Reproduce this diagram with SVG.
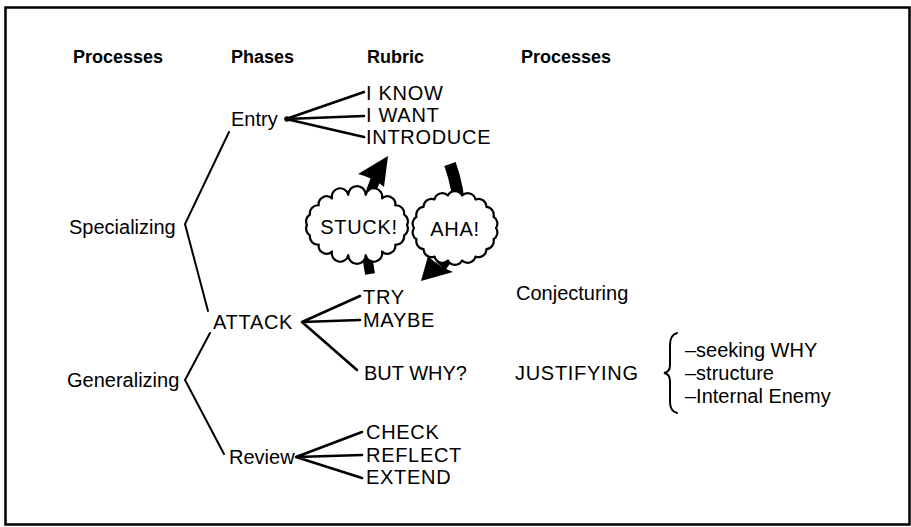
<svg xmlns="http://www.w3.org/2000/svg" width="911" height="527" viewBox="0 0 911 527">
<style>
text{font-family:"Liberation Sans",Arial,sans-serif;font-size:20px;fill:#000}
.h{font-weight:bold;font-size:18px}
.c{letter-spacing:0.7px}
.ln{stroke:#000;stroke-width:2.6;fill:none;stroke-linecap:round}
.lt{stroke:#000;stroke-width:2;fill:none;stroke-linecap:round}
.cloud{fill:#fff;stroke:#000;stroke-width:2.2;stroke-linejoin:round}
.arr{stroke:#000;fill:none}
</style>
<rect x="5.5" y="7.5" width="904" height="517" fill="#fff" stroke="#000" stroke-width="2.5"/>
<g id="headings">
<text class="h" x="73" y="63">Processes</text>
<text class="h" x="231" y="63">Phases</text>
<text class="h" x="367" y="63">Rubric</text>
<text class="h" x="521" y="63">Processes</text>
</g>
<g id="connectors">
<path class="lt" d="M229 132 L185 224 L208 311"/>
<path class="lt" d="M210 333 L185 380 L224 454"/>
<path class="ln" d="M364 92 L286 119 L364 116 M286 119 L364 137"/>
<circle cx="287" cy="119" r="2.8"/>
<path class="ln" d="M360 296 L302 322 L360 320 M302 322 L357 370"/>
<path class="ln" d="M362 432 L296 457 L362 455 M296 457 L362 478"/>
<path class="arr" stroke-width="10" d="M370 274 C364 240 364 205 376 178"/>
<path d="M388 156 L384 187 Q374 178 358 174 Z"/>
<path class="arr" stroke-width="12" d="M450 164 C461 195 466 235 441 266"/>
<path d="M421 281 L428 256 Q438 266 453 272 Z"/>
</g>
<g id="entry"><text x="231" y="126">Entry</text></g>
<g id="iknow"><text class="c" x="366" y="100">I KNOW</text></g>
<g id="iwant"><text class="c" x="366" y="122">I WANT</text></g>
<g id="introduce"><text class="c" x="366" y="144">INTRODUCE</text></g>
<g id="specializing"><text x="69" y="234">Specializing</text></g>
<g id="stuck">
<path class="cloud" d="M407 225 A8 8 0 0 1 404 235.5 A8 8 0 0 1 395.3 244.7 A8 8 0 0 1 382 251.6 A8 8 0 0 1 365.7 255.2 A8 8 0 0 1 348.3 255.2 A8 8 0 0 1 332 251.6 A8 8 0 0 1 318.7 244.7 A8 8 0 0 1 310 235.5 A8 8 0 0 1 307 225 A8 8 0 0 1 310 214.5 A8 8 0 0 1 318.7 205.3 A8 8 0 0 1 332 198.4 A8 8 0 0 1 348.3 194.8 A8 8 0 0 1 365.7 194.8 A8 8 0 0 1 382 198.4 A8 8 0 0 1 395.3 205.3 A8 8 0 0 1 404 214.5 A8 8 0 0 1 407 225 Z"/>
<text class="c" x="359" y="234" text-anchor="middle" font-size="19">STUCK!</text>
</g>
<g id="aha">
<path class="cloud" d="M496 228 A8 8 0 0 1 493.5 239.3 A8 8 0 0 1 486.4 249.2 A8 8 0 0 1 475.5 256.6 A8 8 0 0 1 462.1 260.5 A8 8 0 0 1 447.9 260.5 A8 8 0 0 1 434.5 256.6 A8 8 0 0 1 423.6 249.2 A8 8 0 0 1 416.5 239.3 A8 8 0 0 1 414 228 A8 8 0 0 1 416.5 216.7 A8 8 0 0 1 423.6 206.8 A8 8 0 0 1 434.5 199.4 A8 8 0 0 1 447.9 195.5 A8 8 0 0 1 462.1 195.5 A8 8 0 0 1 475.5 199.4 A8 8 0 0 1 486.4 206.8 A8 8 0 0 1 493.5 216.7 A8 8 0 0 1 496 228 Z"/>
<text class="c" x="455" y="236" text-anchor="middle" font-size="19">AHA!</text>
</g>
<g id="attack"><text class="c" x="213" y="329">ATTACK</text></g>
<g id="try"><text class="c" x="363" y="304">TRY</text></g>
<g id="maybe"><text class="c" x="363" y="327">MAYBE</text></g>
<g id="butwhy"><text x="364" y="380">BUT WHY?</text></g>
<g id="conjecturing"><text x="516" y="300">Conjecturing</text></g>
<g id="justifying"><text class="c" x="515" y="380">JUSTIFYING</text></g>
<g id="justify-list">
<path class="lt" d="M677 333 Q670 335 670 345 L670 365 Q670 372 664 373 Q670 374 670 381 L670 402 Q670 411 677 413"/>
<text x="685" y="357">–seeking WHY</text>
<text x="685" y="380">–structure</text>
<text x="685" y="403">–Internal Enemy</text>
</g>
<g id="generalizing"><text x="67" y="387">Generalizing</text></g>
<g id="review"><text x="229" y="464">Review</text></g>
<g id="check"><text class="c" x="366" y="439">CHECK</text></g>
<g id="reflect"><text class="c" x="366" y="462">REFLECT</text></g>
<g id="extend"><text class="c" x="366" y="484">EXTEND</text></g>
</svg>
